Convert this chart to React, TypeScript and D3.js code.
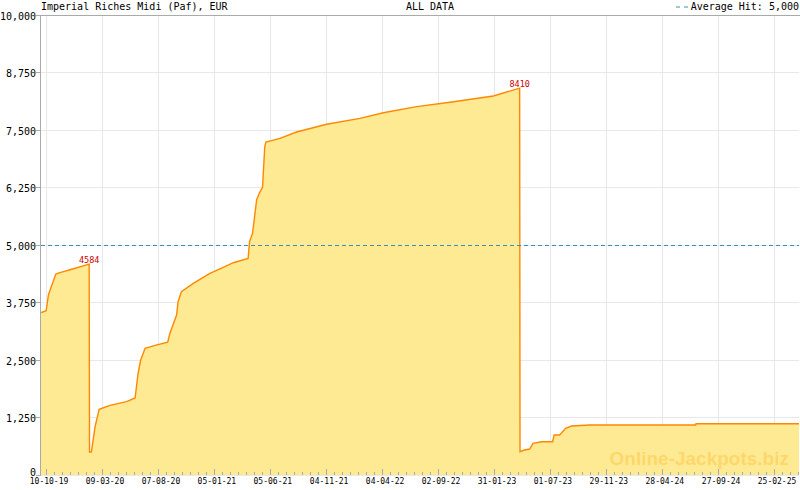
import { useEffect, useRef } from "react"
import * as d3 from "d3"

// jackpot history
const dates = [
  "2019-09-25", "2019-10-09", "2019-10-15", "2019-11-04", "2019-11-15", "2019-12-17",
  "2020-02-02", "2020-02-03", "2020-02-08", "2020-02-18", "2020-02-29", "2020-03-29",
  "2020-05-13", "2020-06-05", "2020-06-13", "2020-06-20", "2020-07-02", "2020-07-29",
  "2020-09-01", "2020-09-07", "2020-09-25", "2020-09-29", "2020-10-08", "2020-11-09",
  "2020-12-24", "2021-01-29", "2021-02-25", "2021-04-06", "2021-04-10", "2021-04-18",
  "2021-04-29", "2021-05-06", "2021-05-15", "2021-05-18", "2021-05-21", "2021-05-24",
  "2021-07-01", "2021-08-15", "2021-11-04", "2022-02-02", "2022-04-06", "2022-07-05",
  "2022-10-03", "2023-01-28", "2023-04-09", "2023-04-10", "2023-04-22", "2023-05-06",
  "2023-05-15", "2023-06-07", "2023-07-07", "2023-07-11", "2023-07-26", "2023-08-11",
  "2023-08-27", "2023-10-15", "2024-07-27", "2024-07-28", "2025-05-02",
]
const values = [
  3530, 3570, 3913, 4370, 4398, 4472,
  4584, 500, 500, 1050, 1428, 1515,
  1594, 1674, 2210, 2500, 2754, 2819,
  2885, 3080, 3478, 3767, 3985, 4167,
  4384, 4515, 4615, 4710, 5072, 5254,
  5978, 6124, 6254, 6702, 7137, 7239,
  7319, 7457, 7624, 7754, 7876, 8007,
  8102, 8239, 8410, 507, 543, 565,
  688, 724, 724, 870, 870, 1015,
  1065, 1087, 1087, 1115, 1115,
]
const peakDates = ["2020-02-02", "2023-04-09"]

const xTickLabels = [
  "10-10-19", "09-03-20", "07-08-20", "05-01-21", "05-06-21", "04-11-21", "04-04-22",
  "02-09-22", "31-01-23", "01-07-23", "29-11-23", "28-04-24", "27-09-24", "25-02-25",
]
const yTicks = [0, 1250, 2500, 3750, 5000, 6250, 7500, 8750, 10000]
const averageHit = 5000

const title = "Imperial Riches Midi (Paf), EUR"
const period = "ALL DATA"
const watermark = "Online-Jackpots.biz"

const W = 800
const H = 490
const margin = { top: 15, right: 1, bottom: 15, left: 41 }
const mono = "'DejaVu Sans Mono', monospace"

export default function App() {
  const svgRef = useRef<SVGSVGElement>(null)

  useEffect(() => {
    if (!svgRef.current) return
    const svg = d3.select(svgRef.current)
    svg.selectAll("*").remove()

    const parse = d3.utcParse("%Y-%m-%d")
    const parseTick = d3.utcParse("%d-%m-%y")
    const data = dates.map((d, i) => ({ date: parse(d) as Date, value: values[i] }))
    const tickDates = xTickLabels.map(t => parseTick(t) as Date)

    const x0 = margin.left
    const x1 = W - margin.right
    const y0 = H - margin.bottom
    const y1 = margin.top

    const x = d3.scaleUtc()
      .domain([data[0].date, data[data.length - 1].date])
      .range([x0, x1])
    const y = d3.scaleLinear().domain([0, 10000]).range([y0, y1])

    // minor ticks: 7 parts per major interval
    const minor: Date[] = []
    const step = tickDates[1].getTime() - tickDates[0].getTime()
    tickDates.forEach((t, i) => {
      const next = i < tickDates.length - 1 ? tickDates[i + 1].getTime() : t.getTime() + step
      for (let k = 1; k < 7; k++) {
        const v = t.getTime() + (next - t.getTime()) * k / 7
        if (v < x.domain()[1].getTime()) minor.push(new Date(v))
      }
    })

    // grid
    const grid = svg.append("g").attr("shape-rendering", "crispEdges")
    grid.selectAll("line.h").data(yTicks).enter().append("line")
      .attr("x1", x0).attr("x2", x1)
      .attr("y1", d => y(d)).attr("y2", d => y(d))
      .attr("stroke", "#e8e8e8")
    grid.selectAll("line.v").data(tickDates).enter().append("line")
      .attr("x1", d => x(d)).attr("x2", d => x(d))
      .attr("y1", y1).attr("y2", y0)
      .attr("stroke", "#e8e8e8")

    // area + line
    const area = d3.area<{ date: Date; value: number }>()
      .x(d => x(d.date)).y0(y(0)).y1(d => y(d.value))
    const line = d3.line<{ date: Date; value: number }>()
      .x(d => x(d.date)).y(d => y(d.value))

    svg.append("path").datum(data)
      .attr("d", area)
      .attr("fill", "#feea92")

    // watermark
    svg.append("text")
      .attr("x", 789).attr("y", 465)
      .attr("text-anchor", "end")
      .style("font-family", "'Liberation Sans', Arial, sans-serif")
      .style("font-weight", "bold")
      .style("font-size", "19px")
      .attr("fill", "#ffb020")
      .attr("fill-opacity", 0.35)
      .text(watermark)

    svg.append("path").datum(data)
      .attr("d", line)
      .attr("fill", "none")
      .attr("stroke", "#ff8800")
      .attr("stroke-width", 1.4)

    // average line
    svg.append("line")
      .attr("x1", x0).attr("x2", x1)
      .attr("y1", y(averageHit) + 0.5).attr("y2", y(averageHit) + 0.5)
      .attr("stroke", "#3a8fc0")
      .attr("stroke-dasharray", "4,3")

    // axes
    const axis = svg.append("g").attr("shape-rendering", "crispEdges").attr("stroke", "#aaaaaa")
    axis.append("line").attr("x1", x0 - 0.5).attr("x2", x0 - 0.5).attr("y1", y1).attr("y2", y0)
    axis.append("line").attr("x1", x0).attr("x2", x1 + 1).attr("y1", y1 + 0.5).attr("y2", y1 + 0.5)
    axis.selectAll("line.yt").data(yTicks).enter().append("line")
      .attr("x1", x0 - 5).attr("x2", x0)
      .attr("y1", d => y(d)).attr("y2", d => y(d))
    axis.selectAll("line.xt").data(tickDates).enter().append("line")
      .attr("x1", d => x(d)).attr("x2", d => x(d))
      .attr("y1", y0 - 6).attr("y2", y0)
    axis.selectAll("line.xm").data(minor).enter().append("line")
      .attr("x1", d => x(d)).attr("x2", d => x(d))
      .attr("y1", y0 - 3.5).attr("y2", y0)

    // y labels
    svg.append("g").selectAll("text").data(yTicks).enter().append("text")
      .attr("x", 36)
      .attr("y", d => Math.min(y(d) + 4.5, y0 + 0.7))
      .attr("text-anchor", "end")
      .style("font-family", mono).style("font-size", "10px")
      .attr("fill", "#000")
      .text(d => d3.format(",")(d))

    // x labels
    svg.append("g").selectAll("text").data(tickDates).enter().append("text")
      .attr("x", d => x(d) + 2.5)
      .attr("y", y0 + 8.5)
      .attr("text-anchor", "middle")
      .style("font-family", mono).style("font-size", "8px")
      .attr("fill", "#000")
      .text((_, i) => xTickLabels[i])

    // peak labels
    const peaks = data.filter(d => peakDates.includes(d3.utcFormat("%Y-%m-%d")(d.date)))
    svg.append("g").selectAll("text").data(peaks).enter().append("text")
      .attr("x", d => x(d.date))
      .attr("y", d => y(d.value) - 1)
      .attr("text-anchor", "middle")
      .style("font-family", mono).style("font-size", "8.5px")
      .attr("fill", "#cc0000")
      .text(d => d.value)

    // header
    svg.append("text")
      .attr("x", x0).attr("y", 10)
      .style("font-family", mono).style("font-size", "10px")
      .text(title)
    svg.append("text")
      .attr("x", 430).attr("y", 10)
      .attr("text-anchor", "middle")
      .style("font-family", mono).style("font-size", "10px")
      .text(period)
    svg.append("text")
      .attr("x", 799).attr("y", 10)
      .attr("text-anchor", "end")
      .style("font-family", mono).style("font-size", "10px")
      .text(`Average Hit: ${d3.format(",")(averageHit)}`)
    svg.append("line")
      .attr("x1", 676).attr("x2", 688)
      .attr("y1", 7).attr("y2", 7)
      .attr("stroke", "#3a8fc0")
      .attr("stroke-dasharray", "4,4")
  }, [])

  return (
    <svg
      ref={svgRef}
      width={W}
      height={H}
      style={{ position: "absolute", left: 0, top: 0, background: "#fff" }}
    />
  )
}
